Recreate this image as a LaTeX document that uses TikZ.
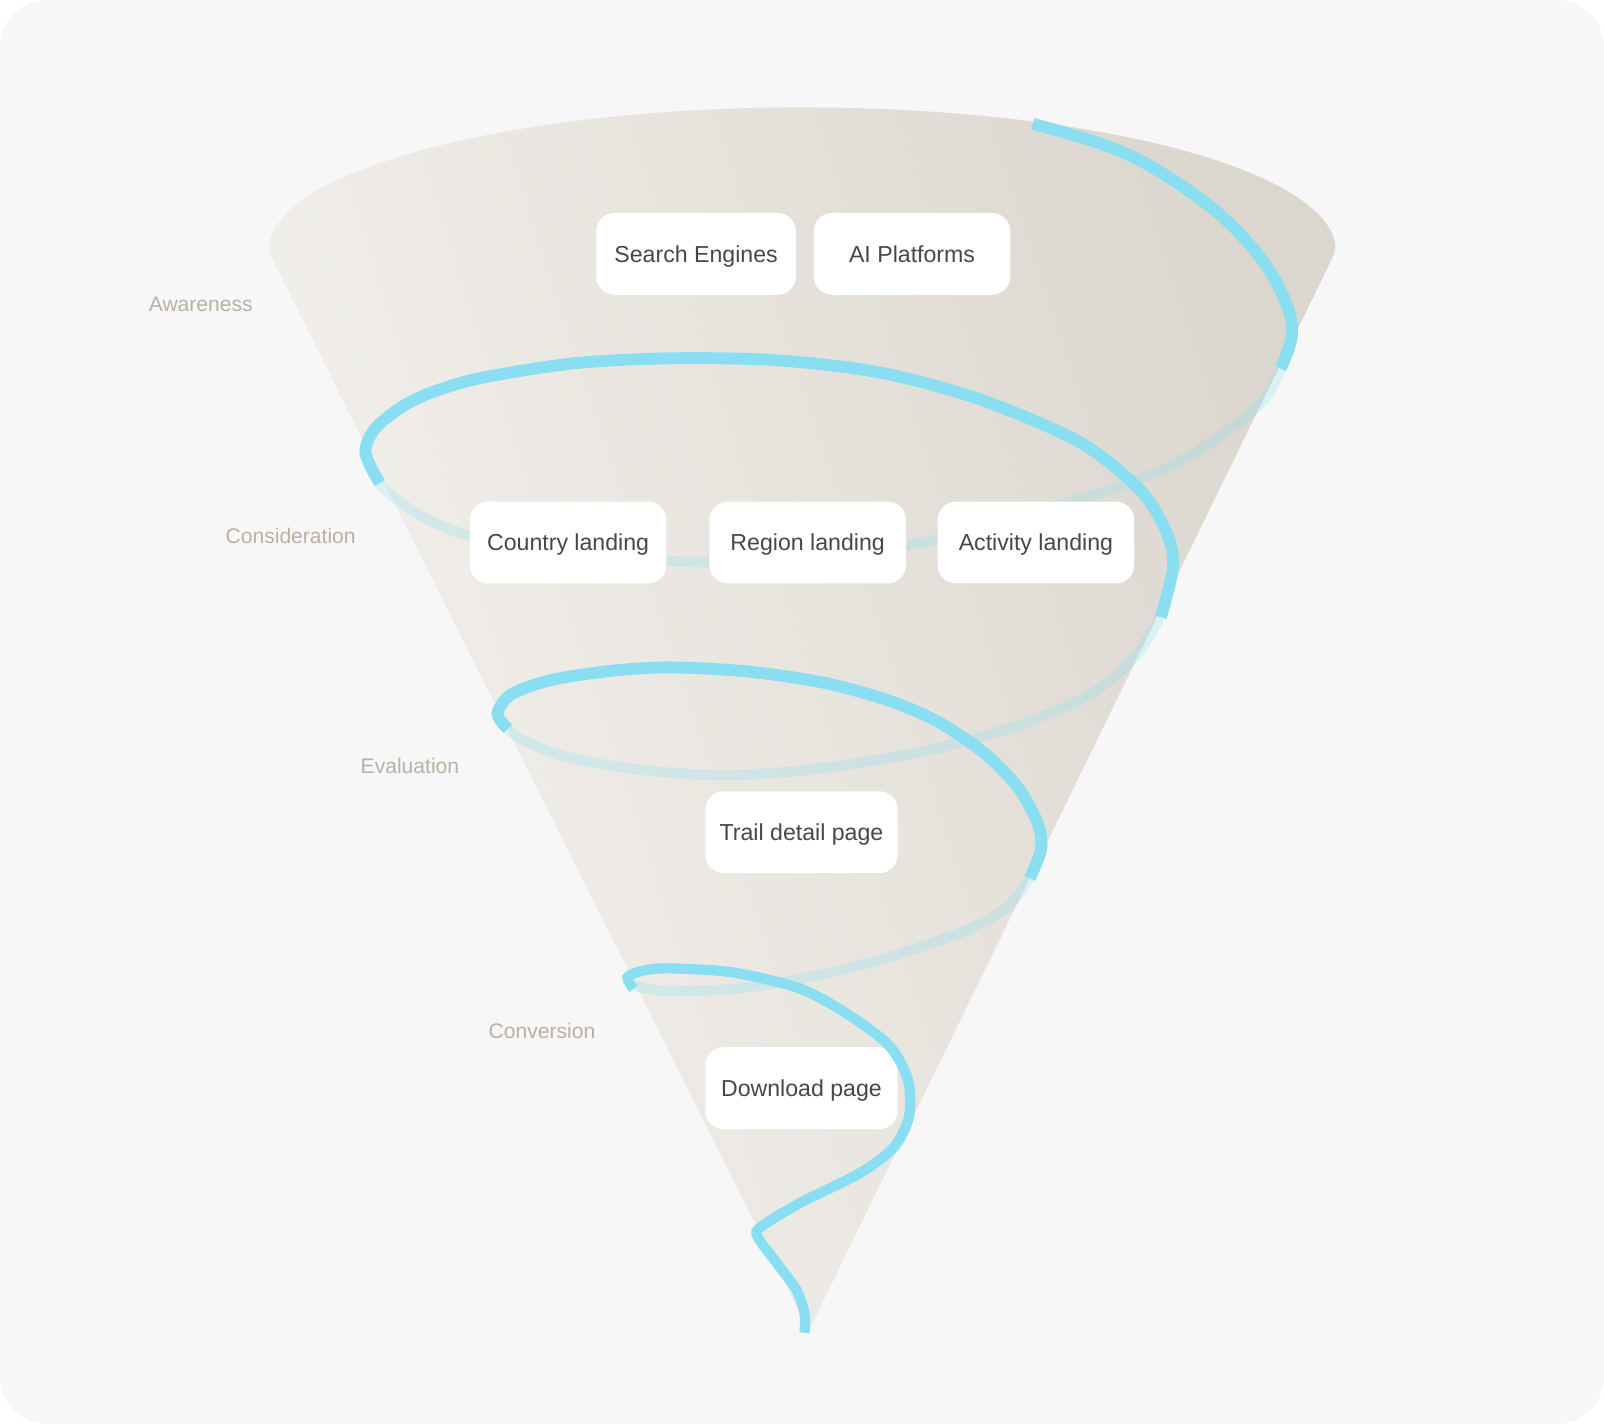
\documentclass[tikz,border=0pt]{standalone}
\usepackage{fontspec}
\setmainfont{Liberation Sans}
\definecolor{bgc}{HTML}{F7F7F7}
\definecolor{coneL}{HTML}{F5F3EF}
\definecolor{coneM}{HTML}{F1EEEA}
\definecolor{coneD}{HTML}{DBD6CE}
\definecolor{cyanS}{HTML}{89DFF1}
\definecolor{boxtext}{HTML}{474747}
\definecolor{labtext}{HTML}{BCB0A2}
\tikzset{
  box/.style={fill=white, rounded corners=9pt, minimum height=40pt, text=boxtext,
    font=\fontsize{11.3}{13}\selectfont, inner sep=0pt, text height=8.1pt, text depth=0pt},
  lab/.style={text=labtext, font=\fontsize{10.3}{12}\selectfont, anchor=west, inner sep=0pt},
  front/.style={draw=cyanS, line width=5.8pt},
  back/.style={draw=cyanS, draw opacity=0.27, line width=5pt},
}
\begin{document}
\begin{tikzpicture}[x=0.5pt, y=-0.5pt]
\useasboundingbox (0,0) rectangle (1567,1391);
\fill[white] (0,0) rectangle (1567,1391);
\fill[bgc, rounded corners=23pt] (0,0) rectangle (1567,1391);
% cone
\shade[top color=coneL, middle color=coneM, bottom color=coneD, shading angle=108]
  (268.7,258.4) .. controls (262,245) .. (263.3,235.2)
  arc[start angle=176, end angle=4, x radius=260.75pt, y radius=70pt]
  .. controls (1305,245) .. (1298.4,258.5) -- (792,1296) -- (788,1296) -- cycle;
% back strands
\draw[back] plot[smooth, tension=0.6] coordinates {(1252,358) (1235,390) (1200,420) (1150,452) (1091,476) (1040,492) (980,510) (911,528) (800,545) (690,549) (600,545) (520,535) (457,523) (413,505) (380,482) (369,470)};
\draw[back] plot[smooth, tension=0.6] coordinates {(1133,603) (1110,640) (1070,675) (1010,703) (940,725) (860,742) (770,754) (693,757) (610,750) (545,737) (506,720) (493,708)};
\draw[back] plot[smooth, tension=0.6] coordinates {(1006,857) (985,885) (950,906) (900,925) (840,943) (782,956) (716,966) (650,968) (621,963)};
% boxes
\node[box, minimum width=97.5pt] (se) at (680,248) {Search Engines};
\node[box, minimum width=96pt] (ai) at (891,248) {AI Platforms};
\node[box, minimum width=96pt] (cl) at (555,530) {Country landing};
\node[box, minimum width=96pt] (rl) at (789,530) {Region landing};
\node[box, minimum width=96pt] (al) at (1012,530) {Activity landing};
\node[box, minimum width=94pt] (td) at (783,813) {Trail detail page};
\node[box, minimum width=94pt] (dp) at (783,1063) {Download page};
% labels
\node[lab] (aw) at (145,297) {Awareness};
\node[lab] (co) at (220,524) {Consideration};
\node[lab] (ev) at (352,748) {Evaluation};
\node[lab] (cv) at (477,1007) {Conversion};
% front strands
\draw[front] plot[smooth, tension=0.6] coordinates {(1009,121) (1100,150) (1180,200) (1230,250) (1256,295) (1262,328) (1251,360)};
\draw[front] plot[smooth, tension=0.5] coordinates {(371,472) (357,442) (368,417) (404,391) (462,371) (560,355) (657,350) (760,352) (860,364) (957,390) (1055,432) (1114,479) (1140,521) (1146,554) (1134,603)};
\draw[front] plot[smooth, tension=0.5] coordinates {(496,712) (486,697) (500,678) (540,664) (600,655) (656,652) (730,656) (805,667) (870,685) (918,706) (962,736) (995,770) (1014,805) (1017,830) (1006,858)};
\draw[front, line width=5pt] plot[smooth, tension=0.5] coordinates {(619,966) (613,955) (625,949) (651,946) (716,950) (782,966) (830,992) (869,1022) (887,1055) (888,1091) (873,1121) (840,1146) (782,1175) (744,1198) (740,1208) (759,1234) (778,1260) (786,1283) (786,1302)};
\end{tikzpicture}
\end{document}
